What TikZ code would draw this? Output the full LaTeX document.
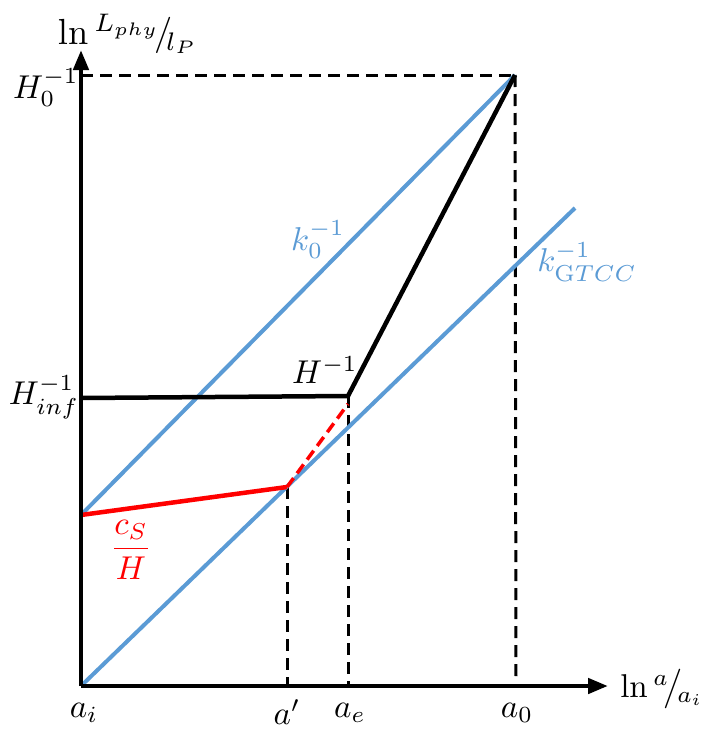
\documentclass[tikz,border=0pt]{standalone}
\usetikzlibrary{arrows.meta}
\definecolor{kblue}{RGB}{91,155,213}
\definecolor{kred}{RGB}{255,0,0}
\tikzset{
  axis/.style={line width=4.5pt,-{Triangle[length=20pt,width=15pt]}},
  guide/.style={line width=3pt,dash pattern=on 12pt off 7pt},
  kline/.style={kblue,line width=4pt},
  hline/.style={black,line width=4.5pt},
  csline/.style={kred,line width=4.5pt},
  lab/.style={inner sep=0pt,scale=3.3},
}
\begin{document}
\begin{tikzpicture}[x=1pt,y=-1pt]
\useasboundingbox (0,0) rectangle (712,736);
% key points
\coordinate (O) at (81,686);
\coordinate (Ytip) at (81,50);
\coordinate (Xtip) at (608,686);
\coordinate (T) at (515,75);
\coordinate (H0y) at (81,75);
\coordinate (A0b) at (516,680);
\coordinate (K0s) at (81,515);
\coordinate (KGe) at (575,208);
\coordinate (Hs) at (81,398);
\coordinate (E) at (348,396);
\coordinate (Eb) at (348,686);
\coordinate (P) at (287,487);
\coordinate (Pb) at (287,686);
\coordinate (R) at (348,404);
% guides
\draw[guide] (H0y) -- (T);
\draw[guide] (T) -- (A0b);
\draw[guide] (E) -- (Eb);
\draw[guide] (P) -- (Pb);
% blue lines
\draw[kline] (K0s) -- (T);
\draw[kline] (O) -- (KGe);
% H^-1
\draw[hline,line join=miter] (Hs) -- (E) -- (T);
% red
\draw[csline] (K0s) -- (P);
\draw[csline,line width=3.5pt,dash pattern=on 11pt off 6pt] (P) -- (R);
% axes
\draw[axis] (O) -- (Ytip);
\draw[axis] (O) -- (Xtip);
% labels
\node[lab,scale=1.1] (ylab) at (128,34) {$\ln{}^{L_{phy}}\!/\!{}_{l_P}$};
\node[lab] (lH0) at (46,88) {$H_0^{-1}$};
\node[lab] (lHinf) at (44,397) {$H_{inf}^{-1}$};
\node[lab,kblue] (lk0) at (318,240) {$k_0^{-1}$};
\node[lab,kblue] (lkG) at (587,262) {$k_{\mathrm{G}TCC}^{-1}$};
\node[lab] (lH) at (325,370) {$H^{-1}$};
\node[lab,kred] (lcs) at (131,550) {$\displaystyle\frac{c_S}{H}$};
\node[lab] (lai) at (84,713) {$a_i$};
\node[lab] (lap) at (287,712) {$a'$};
\node[lab] (lae) at (350,713) {$a_e$};
\node[lab] (la0) at (517,713) {$a_0$};
\node[lab] (xlab) at (662,689) {$\ln{}^{a}\!\big/\!{}_{a_i}$};
\end{tikzpicture}
\end{document}
